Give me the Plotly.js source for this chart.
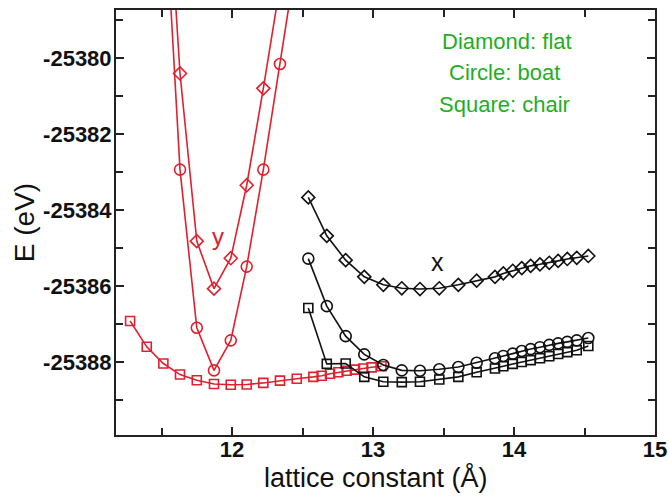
<!DOCTYPE html>
<html><head><meta charset="utf-8">
<script src="https://cdn.plot.ly/plotly-3.0.1.min.js"></script>
<style>body{margin:0;background:#fff;}</style>
</head><body><div id="chart" style="width:669px;height:496px;"></div>
<script>
// ---- data ----
const yGridX = [11.513, 11.631, 11.750, 11.872, 11.991, 12.104, 12.222, 12.340, 12.459];
const yFlatE = [-25373.46, -25380.41, -25384.82, -25386.07, -25385.27, -25383.35, -25380.80, -25378.10];
const yBoatE = [-25375.15, -25382.94, -25387.10, -25388.22, -25387.43, -25385.49, -25382.94, -25380.16, -25377.32];

const yChairX = [11.277, 11.395, 11.513, 11.631, 11.750, 11.872, 11.991, 12.104, 12.222, 12.340,
                 12.459, 12.577, 12.636, 12.695, 12.754, 12.813, 12.872, 12.930, 12.990, 13.060];
const yChairE = [-25386.92, -25387.60, -25388.04, -25388.33, -25388.48, -25388.58, -25388.60, -25388.59, -25388.55, -25388.49,
                 -25388.44, -25388.39, -25388.36, -25388.31, -25388.27, -25388.23, -25388.20, -25388.17, -25388.14, -25388.11];

const xGridX = [12.541, 12.672, 12.806, 12.938, 13.073, 13.204, 13.333, 13.470, 13.605, 13.735, 13.865,
                13.924, 13.991, 14.055, 14.118, 14.184, 14.250, 14.313, 14.378, 14.445, 14.527];
const xFlatE = [-25383.67, -25384.68, -25385.32, -25385.76, -25385.97, -25386.06, -25386.08, -25386.06, -25385.97, -25385.86, -25385.76,
                -25385.67, -25385.60, -25385.53, -25385.47, -25385.43, -25385.39, -25385.34, -25385.29, -25385.26, -25385.21];
const xBoatE = [-25385.28, -25386.53, -25387.32, -25387.80, -25388.08, -25388.22, -25388.23, -25388.19, -25388.13, -25388.02, -25387.90,
                -25387.84, -25387.78, -25387.71, -25387.66, -25387.61, -25387.55, -25387.51, -25387.47, -25387.43, -25387.37];
const xChairE = [-25386.58, -25388.05, -25388.04, -25388.39, -25388.52, -25388.53, -25388.52, -25388.46, -25388.39, -25388.27, -25388.17,
                 -25388.11, -25388.05, -25388.00, -25387.95, -25387.90, -25387.85, -25387.79, -25387.74, -25387.69, -25387.58];

const yTickVals = [-25388, -25386, -25384, -25382, -25380];
const yTickText = ['-25388', '-25386', '-25384', '-25382', '-25380'];
const xTickVals = [12, 13, 14, 15];
const xTickText = ['12', '13', '14', '15'];

const xTitle = 'lattice constant (Å)';
const yTitle = 'E (eV)';
const legendLines = ['Diamond: flat', 'Circle: boat', 'Square: chair'];
const dirLabels = ['y', 'x'];

// ---- styling ----
const RED = '#e0202e';
const BLK = '#111111';
const GREEN = '#1fae1f';
const FONT = 'Liberation Sans, Arial, sans-serif';

function tr(x, y, color, symbol, size) {
  return {
    x: x, y: y, type: 'scatter', mode: 'lines+markers',
    line: {color: color, width: 1.6},
    marker: {symbol: symbol, size: size, color: color, line: {color: color, width: 1.6}},
    cliponaxis: true, showlegend: false, hoverinfo: 'skip'
  };
}

const data = [
  tr(yGridX.slice(0, yFlatE.length), yFlatE, RED, 'diamond-open', 10),
  tr(yGridX, yBoatE, RED, 'circle-open', 11),
  tr(yChairX, yChairE, RED, 'square-open', 9),
  tr(xGridX, xFlatE, BLK, 'diamond-open', 10),
  tr(xGridX, xBoatE, BLK, 'circle-open', 11),
  tr(xGridX, xChairE, BLK, 'square-open', 9)
];

const axisCommon = {
  showline: true, linecolor: '#222', linewidth: 2, mirror: 'ticks',
  ticks: 'inside', ticklen: 8, tickwidth: 2, tickcolor: '#222',
  showgrid: false, zeroline: false,
  tickfont: {family: FONT, size: 22, color: '#111', weight: 'bold'}
};

const layout = {
  width: 669, height: 496,
  margin: {l: 116, r: 14, t: 10, b: 61},
  paper_bgcolor: '#fff', plot_bgcolor: '#fff',
  font: {family: FONT},
  xaxis: Object.assign({}, axisCommon, {
    range: [11.177, 15], tickmode: 'array', tickvals: xTickVals, ticktext: xTickText,
    ticklabelstandoff: -6,
    minor: {dtick: 0.5, ticks: 'inside', ticklen: 7, tickwidth: 2, tickcolor: '#222', showgrid: false}
  }),
  yaxis: Object.assign({}, axisCommon, {
    range: [-25389.92, -25378.74], tickmode: 'array', tickvals: yTickVals, ticktext: yTickText,
    ticklabelstandoff: -2,
    minor: {dtick: 1, ticks: 'inside', ticklen: 7, tickwidth: 2, tickcolor: '#222', showgrid: false},
    title: {text: yTitle, font: {family: FONT, size: 28, color: '#111'}, standoff: 0}
  }),
  annotations: [
    {x: (375.5 - 116) / 539, y: (435 - 478) / 425, xref: 'paper', yref: 'paper', text: xTitle, showarrow: false,
     xanchor: 'center', yanchor: 'middle', font: {family: FONT, size: 27, color: '#111'}},
    {x: 11.90, y: -25384.71, xref: 'x', yref: 'y', text: dirLabels[0], showarrow: false,
     xanchor: 'center', yanchor: 'middle', font: {family: FONT, size: 24, color: RED}},
    {x: 13.454, y: -25385.37, xref: 'x', yref: 'y', text: dirLabels[1], showarrow: false,
     xanchor: 'center', yanchor: 'middle', font: {family: FONT, size: 25, color: BLK}},
    {x: (506.5 - 116) / 539, y: (435 - 41) / 425, xref: 'paper', yref: 'paper', text: legendLines[0], showarrow: false,
     xanchor: 'center', yanchor: 'middle', font: {family: FONT, size: 22, color: GREEN}},
    {x: (504 - 116) / 539, y: (435 - 73) / 425, xref: 'paper', yref: 'paper', text: legendLines[1], showarrow: false,
     xanchor: 'center', yanchor: 'middle', font: {family: FONT, size: 22, color: GREEN}},
    {x: (504 - 116) / 539, y: (435 - 105) / 425, xref: 'paper', yref: 'paper', text: legendLines[2], showarrow: false,
     xanchor: 'center', yanchor: 'middle', font: {family: FONT, size: 22, color: GREEN}}
  ]
};

Plotly.newPlot('chart', data, layout, {staticPlot: true, displayModeBar: false});
</script>
</body></html>
